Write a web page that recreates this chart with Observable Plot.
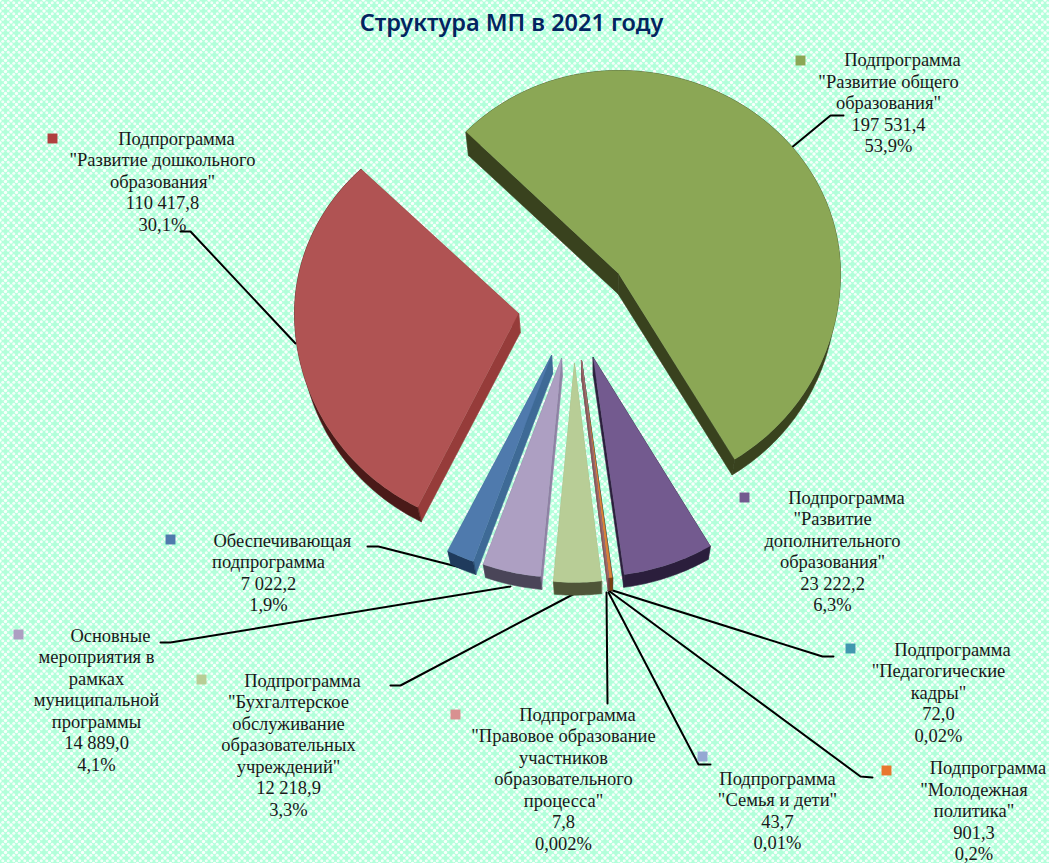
<!DOCTYPE html>
<html lang="ru"><head><meta charset="utf-8">
<script src="https://cdn.jsdelivr.net/npm/d3@7"></script>
<script src="https://cdn.jsdelivr.net/npm/@observablehq/plot@0.6"></script>
<style>
html,body{margin:0;padding:0;width:1049px;height:863px;overflow:hidden}
svg{display:block}
</style></head><body><div id="c"></div>
<script>
const title = "Структура МП в 2021 году";
const ids = ["general","extra","teachers","youth","family","law","accounting","basic","support","preschool"];
const values = [197531.4,23222.2,72.0,901.3,43.7,7.8,12218.9,14889.0,7022.2,110417.8];
const valueTexts = ["197 531,4","23 222,2","72,0","901,3","43,7","7,8","12 218,9","14 889,0","7 022,2","110 417,8"];
const percents = ["53,9%","6,3%","0,02%","0,2%","0,01%","0,002%","3,3%","4,1%","1,9%","30,1%"];
const names = [
 ["Подпрограмма","\"Развитие общего","образования\""],
 ["Подпрограмма","\"Развитие","дополнительного","образования\""],
 ["Подпрограмма","\"Педагогические","кадры\""],
 ["Подпрограмма","\"Молодежная","политика\""],
 ["Подпрограмма","\"Семья и дети\""],
 ["Подпрограмма","\"Правовое образование","участников","образовательного","процесса\""],
 ["Подпрограмма","\"Бухгалтерское","обслуживание","образовательных","учреждений\""],
 ["Основные","мероприятия в","рамках","муниципальной","программы"],
 ["Обеспечивающая","подпрограмма"],
 ["Подпрограмма","\"Развитие дошкольного","образования\""]
];
const topColors = ["#8ba755","#735a8f","#4198af","#d8833a","#95a8d3","#d89090","#b8cd96","#ad9fc2","#4f7aad","#b05353"];
const keyColors = ["#8ba755","#735a8f","#4198af","#e8772e","#95a8d3","#d89090","#b8cd96","#ad9fc2","#4f7aad","#b03f3f"];
const sideColors = ["#39421e","#2b1e3c","#2a6a7c","#7a3f10","#5a6a90","#8a5a5a","#a6b988","#8f82a4","#3e6a96","#963c3a"];
const outerColors = ["#39421e","#2b1e3c","#1f4f5c","#7a3f10","#3f4a66","#6a3a3a","#4f5538","#4a4558","#1f3a5c","#4a1a18"];

// layout of the exploded pieces: tip, radius right / above / below / left of the tip, small turn in degrees
const tips = [[618,273],[592.7,357],[581,360],[581,360],[581,360],[581,360],[574,363],[561,358],[551,355],[518,313]];
const radii = [[222,203,218,213],[230,219,219,230],[230,219,219,230],[230,219,219,230],[230,219,219,230],[230,219,219,230],[230,219,219,230],[230,219,219,230],[230,219,219,230],[224,203,217,224]];
const turns = [-1,0,0,0,0,0,0,0,0,0];
// label layout
const labelX = [888,832,938,973.5,777,563,288,96,268,162];
const labelY = [61.5,499,651,769.5,780,716,682,637,542,140];
const keyX = [800,744,850,886,702,455,201,18,170,52];
const keyY = [60,497,648,770,756,714,679,634,539,138];
const leaders = [
 [[790,148],[830,115],[843,115]],
 [],
 [[609,589],[822,656],[833,656]],
 [[608,590],[860,776],[872,777]],
 [[608,592],[698,764],[710,764]],
 [[606,592],[607,703]],
 [[578,591],[400,685],[390,685]],
 [[510,586],[170,642],[160,642]],
 [[472,570],[378,546],[367,546]],
 [[295,343],[190,231],[180,231]]
];

const tile = `<svg xmlns='http://www.w3.org/2000/svg' width='11' height='11'><rect width='11' height='11' fill='#b2ffda'/><g fill='#fff'>`+
  [[0,0],[11,0],[0,11],[11,11],[5.5,5.5]].map(p=>`<circle cx='${p[0]}' cy='${p[1]}' r='1.7' opacity='.95'/>`).join("")+
  [[2.75,2.75],[8.25,2.75],[2.75,8.25],[8.25,8.25]].map(p=>`<circle cx='${p[0]}' cy='${p[1]}' r='1.5' opacity='.85'/>`).join("")+`</g></svg>`;
document.body.style.background = `url("data:image/svg+xml,${encodeURIComponent(tile)}")`;

const rad = Math.PI/180;
const pie = d3.pie().sort(null).value(d=>d).startAngle(-44.7*rad).endAngle((360-44.7)*rad);
const arcs = pie(values);
function proj(i,t){
  const [ax,ay]=tips[i],[rr,up,dn,rl]=radii[i];
  const tt=t+turns[i]*rad, c=Math.cos(tt),s=Math.sin(tt);
  return [ax+(s>0?rr:rl)*s, ay-(c>0?up:dn)*c];
}
const drop = p => [p[0]-(p[0]-600)*0.02, p[1]+24-(p[1]-128)*0.025];
function poly(id,pts){return pts.map(p=>({id,x:p[0],y:p[1]}));}
const marks=[];
ids.forEach((id,i)=>{
  const a=arcs[i], n=Math.max(2,Math.ceil((a.endAngle-a.startAngle)/rad));
  const rim=d3.range(n+1).map(k=>proj(i,a.startAngle+(a.endAngle-a.startAngle)*k/n));
  const tip=tips[i];
  const f=rim[0],l=rim[n];
  const side1=[tip,f,drop(f),drop(tip)], side2=[tip,l,drop(l),drop(tip)];
  const outer=[...rim,...rim.map(drop).reverse()];
  const top=[tip,...rim];
  [[side1,sideColors[i]],[side2,sideColors[i]],[outer,outerColors[i]],[top,topColors[i]]].forEach(([pts,c],j)=>{
    marks.push(Plot.line(poly(id+j,pts),{x:"x",y:"y",fill:c,stroke:c,strokeWidth:j<3?0.6:0.2,curve:"linear-closed"}));
  });
});
const leaderRows=leaders.flatMap((pts,i)=>pts.map(p=>({i,x:p[0],y:p[1]})));
const lh=21.55, fs=18.5;
const labels=ids.map((id,i)=>{
  const lines=[...names[i],valueTexts[i],percents[i]];
  if(id!=="family") lines[0]="\u00a0".repeat(6)+lines[0];
  return {x:labelX[i],y:labelY[i]-fs*0.6,t:lines.join("\n")};
});
const chart=Plot.plot({
  width:1049,height:863,margin:0,
  x:{domain:[0,1049],range:[0,1049],axis:null},
  y:{domain:[0,863],range:[0,863],axis:null},
  style:{background:"transparent",overflow:"visible"},
  marks:[
    Plot.line(leaderRows,{x:"x",y:"y",z:"i",stroke:"#000",strokeWidth:2,curve:"linear"}),
    ...marks,
    Plot.dot(ids.map((d,i)=>({x:keyX[i],y:keyY[i],c:keyColors[i]})),{x:"x",y:"y",symbol:"square",r:5.6,fill:"c",stroke:"none"}),
    Plot.text(labels,{x:"x",y:"y",text:"t",textAnchor:"middle",lineAnchor:"top",lineHeight:lh/fs,fontSize:fs,fontFamily:"Liberation Serif",fill:"#1a1a1a"}),
    Plot.text([{x:511,y:23,t:title}],{x:"x",y:"y",text:"t",fontSize:23.5,fontFamily:"Noto Sans",fontWeight:600,fill:"#03245f"})
  ]
});
document.getElementById("c").append(chart);
</script></body></html>
